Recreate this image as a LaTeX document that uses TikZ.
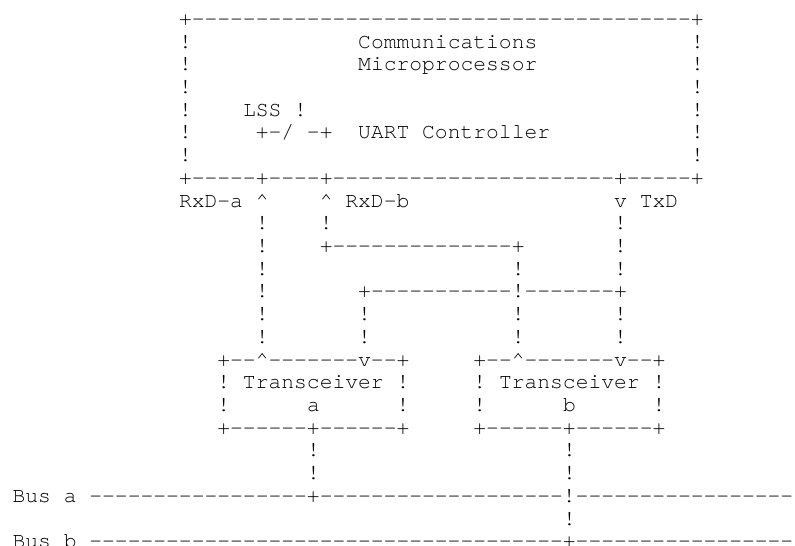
\documentclass[tikz,border=0pt]{standalone}
\usepackage{fontspec}
\setmonofont{TeX Gyre Cursor}
\newcommand\ac{\textasciicircum}
\tikzset{
  txt/.style={anchor=base west, inner sep=0pt, outer sep=0pt,
    font=\ttfamily\fontsize{21.33}{22.72}\selectfont, text=black}
}
\newcommand\seg[4]{\node[txt] (#1) at ({12.6+12.8*#2},{546-25.3-22.72*#3}) {#4};}
\begin{document}
\begin{tikzpicture}[x=1pt,y=1pt]
\fill[white] (0,0) rectangle (795,546);
\useasboundingbox (0,0) rectangle (795,546);
% Communications Microprocessor box
\seg{r0}{13}{0}{+---------------------------------------+}
\seg{r1a}{13}{1}{!}
\seg{r1b}{27}{1}{Communications}
\seg{r1c}{53}{1}{!}
\seg{r2a}{13}{2}{!}
\seg{r2b}{27}{2}{Microprocessor}
\seg{r2c}{53}{2}{!}
\seg{r3a}{13}{3}{!}
\seg{r3c}{53}{3}{!}
\seg{r4a}{13}{4}{!}
\seg{r4b}{18}{4}{LSS~!}
\seg{r4c}{53}{4}{!}
\seg{r5a}{13}{5}{!}
\seg{r5b}{19}{5}{+-/~-+}
\seg{r5c}{27}{5}{UART~Controller}
\seg{r5d}{53}{5}{!}
\seg{r6a}{13}{6}{!}
\seg{r6c}{53}{6}{!}
\seg{r7}{13}{7}{+-----+----+----------------------+-----+}
% signal labels
\seg{r8a}{13}{8}{RxD-a~\ac}
\seg{r8b}{24}{8}{\ac~RxD-b}
\seg{r8c}{47}{8}{v~TxD}
\seg{r9a}{19}{9}{!}
\seg{r9b}{24}{9}{!}
\seg{r9c}{47}{9}{!}
\seg{r10a}{19}{10}{!}
\seg{r10b}{24}{10}{+--------------+}
\seg{r10c}{47}{10}{!}
\seg{r11a}{19}{11}{!}
\seg{r11b}{39}{11}{!}
\seg{r11c}{47}{11}{!}
\seg{r12a}{19}{12}{!}
\seg{r12b}{27}{12}{+-----------!-------+}
\seg{r13a}{19}{13}{!}
\seg{r13b}{27}{13}{!}
\seg{r13c}{39}{13}{!}
\seg{r13d}{47}{13}{!}
\seg{r14a}{19}{14}{!}
\seg{r14b}{27}{14}{!}
\seg{r14c}{39}{14}{!}
\seg{r14d}{47}{14}{!}
% transceivers
\seg{r15a}{16}{15}{+--\ac-------v--+}
\seg{r15b}{36}{15}{+--\ac-------v--+}
\seg{r16a}{16}{16}{!~Transceiver~!}
\seg{r16b}{36}{16}{!~Transceiver~!}
\seg{r17a}{16}{17}{!}
\seg{r17b}{23}{17}{a}
\seg{r17c}{30}{17}{!}
\seg{r17d}{36}{17}{!}
\seg{r17e}{43}{17}{b}
\seg{r17f}{50}{17}{!}
\seg{r18a}{16}{18}{+------+------+}
\seg{r18b}{36}{18}{+------+------+}
\seg{r19a}{23}{19}{!}
\seg{r19b}{43}{19}{!}
\seg{r20a}{23}{20}{!}
\seg{r20b}{43}{20}{!}
% buses
\seg{r21}{0}{21}{Bus~a~-----------------+-------------------!-----------------}
\seg{r22}{43}{22}{!}
\seg{r23}{0}{23}{Bus~b~-------------------------------------+-----------------}
\end{tikzpicture}
\end{document}
